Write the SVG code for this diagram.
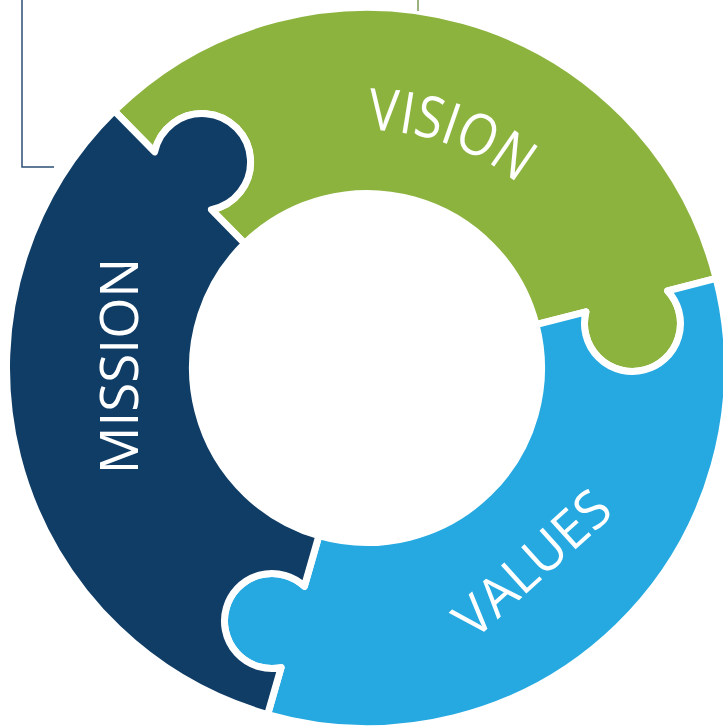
<svg xmlns="http://www.w3.org/2000/svg" width="723" height="727" viewBox="0 0 723 727">
  <style>
    .piece { stroke: #ffffff; stroke-width: 7; stroke-linejoin: round; }
    .label { font-family: "Open Sans", "Liberation Sans", sans-serif; fill: #ffffff; font-size: 53px; }
    .deco { fill: none; stroke-width: 1.5; }
  </style>
  <defs>
    <path id="visionArc" d="M 210.86 188.38 A 238 238 0 0 1 600.63 322.59"/>
  </defs>
  <rect width="723" height="727" fill="#ffffff"/>
  <g id="vision">
    <path class="piece" fill="#8db33f" d="M 114.32 110.87 A 360.5 360.5 0 0 1 716.17 278.35 L 667.64 290.81 A 48 48 0 1 1 585.91 311.79 L 536.02 324.60 A 174.5 174.5 0 0 0 244.69 243.54 L 211.39 209.65 A 48.5 48.5 0 1 0 154.63 151.89 Z"/>
    <text class="label" style="font-size:58px"><textPath href="#visionArc" startOffset="50.6%" text-anchor="middle" textLength="162" lengthAdjust="spacingAndGlyphs">VISION</textPath></text>
  </g>
  <g id="values">
    <path class="piece" fill="#25a9e0" d="M 716.17 278.35 A 360.5 360.5 0 0 1 267.63 714.53 L 281.08 667.62 A 47.5 47.5 0 1 1 304.40 586.30 L 318.90 535.74 A 174.5 174.5 0 0 0 536.02 324.60 L 585.91 311.79 A 48 48 0 1 0 667.64 290.81 Z"/>
    <text class="label" text-anchor="middle" transform="translate(544.7,577.1) rotate(-42)">VALUES</text>
  </g>
  <g id="mission">
    <path class="piece" fill="#103d66" d="M 267.63 714.53 A 360.5 360.5 0 0 1 114.32 110.87 L 154.63 151.89 A 48.5 48.5 0 1 1 211.39 209.65 L 244.69 243.54 A 174.5 174.5 0 0 0 318.90 535.74 L 304.40 586.30 A 47.5 47.5 0 1 0 281.08 667.62 Z"/>
    <text class="label" text-anchor="middle" transform="translate(138,366) rotate(-90)">MISSION</text>
  </g>
  <g id="connectors">
    <path class="deco" stroke="#2b4f74" d="M 22 0 L 22 167 L 54 167"/>
    <path class="deco" stroke="#7d9a55" d="M 418 0 L 418 11"/>
  </g>
</svg>
